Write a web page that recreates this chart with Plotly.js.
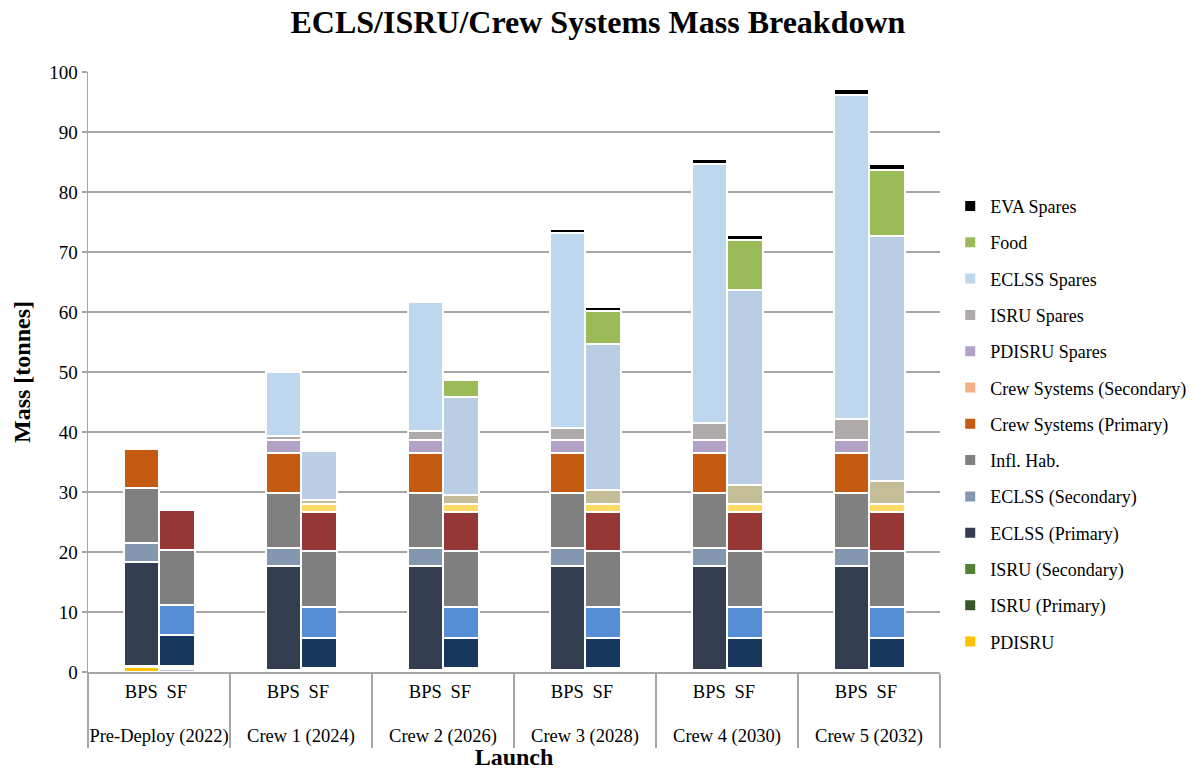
<!DOCTYPE html>
<html>
<head>
<meta charset="utf-8">
<script src="https://cdn.plot.ly/plotly-3.0.1.min.js"></script>
<style>html,body{margin:0;padding:0;background:#fff}#chart{width:1203px;height:773px}</style>
</head>
<body>
<div id="chart"></div>
<script>
// ---- categories ----
const launches = ["Pre-Deploy (2022)", "Crew 1 (2024)", "Crew 2 (2026)", "Crew 3 (2028)", "Crew 4 (2030)", "Crew 5 (2032)"];
const concepts = ["BPS", "SF"];
const blankLeft = "\u00a0<br>\u00a0";
const blankRight = "\u00a0\u00a0";

// ---- series values (tonnes), order: [PD-BPS, PD-SF, C1-BPS, C1-SF, ..., C5-BPS, C5-SF] ----
const seriesNames = ["PDISRU", "ISRU (Primary)", "ISRU (Secondary)", "ECLSS (Primary)", "ECLSS (Secondary)",
  "Infl. Hab.", "Crew Systems (Primary)", "Crew Systems (Secondary)", "PDISRU Spares", "ISRU Spares",
  "ECLSS Spares", "Food", "EVA Spares"];

const pdisru          = [0.8, 0.45, 0, 0, 0, 0, 0, 0, 0, 0, 0, 0];
const isruPrimary     = [0.25, 0.3, 0.2, 0.35, 0.2, 0.35, 0.2, 0.35, 0.2, 0.35, 0.2, 0.35];
const isruSecondary   = [0, 0.25, 0.2, 0.4, 0.2, 0.4, 0.2, 0.4, 0.2, 0.4, 0.2, 0.4];
const eclssPrimary    = [17.35, 5.2, 17.2, 4.95, 17.2, 4.95, 17.2, 4.95, 17.2, 4.95, 17.2, 4.95];
const eclssSecondary  = [3.1, 5.05, 3.1, 5.15, 3.1, 5.15, 3.1, 5.15, 3.1, 5.15, 3.1, 5.15];
const inflHab         = [9.1, 9.15, 9.15, 9.25, 9.15, 9.25, 9.15, 9.25, 9.15, 9.25, 9.15, 9.25];
const crewPrimary     = [6.6, 6.6, 6.65, 6.5, 6.65, 6.5, 6.65, 6.5, 6.65, 6.5, 6.65, 6.5];
const crewSecondary   = [0, 0, 0, 1.4, 0, 1.4, 0, 1.4, 0, 1.4, 0, 1.4];
const pdisruSpares    = [0, 0, 2.1, 0, 2.1, 0, 2.1, 0, 2.1, 0, 2.1, 0];
const isruSpares      = [0, 0, 0.8, 0.75, 1.5, 1.55, 2.15, 2.3, 2.9, 3.1, 3.6, 3.9];
const eclssSpares     = [0, 0, 10.6, 8.15, 21.5, 16.25, 32.35, 24.4, 43.2, 32.5, 54.0, 40.7];
const food            = [0, 0, 0, 0, 0, 2.8, 0, 5.55, 0, 8.4, 0, 11.05];
const evaSpares       = [0, 0, 0, 0, 0.4, 0.4, 0.7, 0.65, 0.75, 0.8, 0.9, 1.0];

const seriesValues = [pdisru, isruPrimary, isruSecondary, eclssPrimary, eclssSecondary, inflHab,
  crewPrimary, crewSecondary, pdisruSpares, isruSpares, eclssSpares, food, evaSpares];

// ---- colours: BPS bars and SF bars ----
const bpsColors = ["#FFC000", "#375623", "#548235", "#333F50", "#8497B0", "#808080", "#C55A11",
  "#F4B183", "#B3A2C7", "#AEAAAA", "#BDD7EE", "#9BBB59", "#000000"];
const sfColors  = ["#CCC1DA", "#4F6228", "#77933C", "#17375E", "#558ED5", "#7F7F7F", "#953735",
  "#FFD966", "#B3A2C7", "#C4BD97", "#B9CDE5", "#9BBB59", "#000000"];

// ---- build x (multicategory) ----
const xOuter = [], xInner = [];
launches.forEach(l => concepts.forEach(c => { xOuter.push(l); xInner.push(c); }));
const slotOuter = [], slotInner = [];
launches.forEach(l => [blankLeft, "BPS", "SF", blankRight].forEach(s => { slotOuter.push(l); slotInner.push(s); }));

const serif = "Liberation Serif, Times New Roman, serif";

const data = [{
  type: "scatter", mode: "markers", x: [slotOuter, slotInner], y: slotOuter.map(() => null),
  showlegend: false, hoverinfo: "skip"
}];

const nSeries = seriesNames.length;
seriesNames.forEach((name, i) => {
  const colors = xInner.map(c => c === "BPS" ? bpsColors[i] : sfColors[i]);
  data.push({
    type: "bar",
    name: name,
    legendgroup: name,
    legendrank: nSeries - i,
    x: [xOuter, xInner],
    y: seriesValues[i],
    marker: { color: colors, line: { color: "#FFFFFF", width: 2 } }
  });
});

const layout = {
  width: 1203, height: 773,
  paper_bgcolor: "#FFFFFF", plot_bgcolor: "#FFFFFF",
  margin: { l: 88, r: 261, t: 72, b: 101 },
  barmode: "stack", bargap: 0,
  font: { family: serif, size: 19, color: "#000000" },
  title: { text: "<b>ECLS/ISRU/Crew Systems Mass Breakdown</b>", font: { family: serif, size: 32, color: "#000" },
           x: 0.497, xref: "container", y: 0.972, yref: "container", yanchor: "middle" },
  xaxis: {
    type: "multicategory", range: [-0.5, 23.5], autorange: false,
    showline: true, linecolor: "#A6A6A6", linewidth: 1.5,
    showgrid: false, ticks: "", tickangle: 0, ticklabelstandoff: 2,
    showdividers: true, dividercolor: "#A6A6A6", dividerwidth: 1.5,
    tickfont: { family: serif, size: 18.5, color: "#000" },
    title: { text: "<b>Launch</b>", font: { family: serif, size: 24, color: "#000" }, standoff: 2 }
  },
  yaxis: {
    range: [0, 100], autorange: false, dtick: 10,
    showline: true, linecolor: "#A6A6A6", linewidth: 1.5,
    showgrid: true, gridcolor: "#A6A6A6", gridwidth: 1.5,
    ticks: "outside", ticklen: 5, tickcolor: "#A6A6A6", tickwidth: 1.5,
    tickfont: { family: serif, size: 19, color: "#000" },
    zeroline: false,
    title: { text: "<b>Mass [tonnes]</b>", font: { family: serif, size: 24, color: "#000" }, standoff: 12 }
  },
  legend: {
    x: 1.012, xanchor: "left", y: 0.807, yanchor: "top",
    traceorder: "grouped", tracegroupgap: 9.9,
    font: { family: serif, size: 18, color: "#000" },
    bgcolor: "rgba(0,0,0,0)"
  },
  showlegend: true
};

Plotly.newPlot("chart", data, layout, { displayModeBar: false, staticPlot: true });
</script>
</body>
</html>
